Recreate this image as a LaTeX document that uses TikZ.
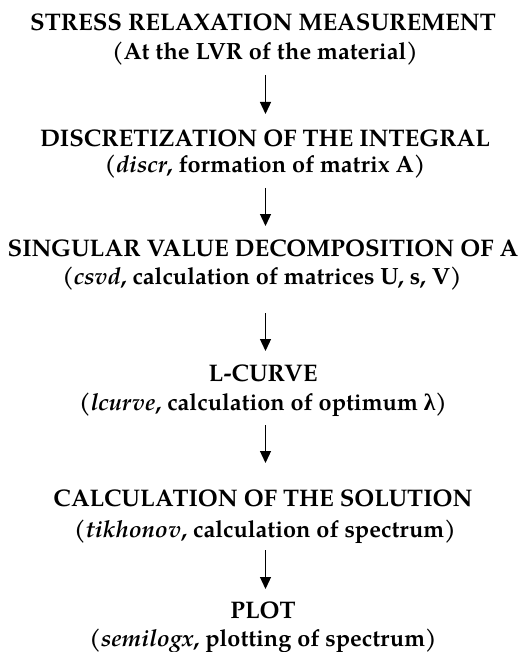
\documentclass[tikz,border=0pt]{standalone}
\usepackage{fontspec}
\setmainfont{texgyrepagella}[Extension=.otf,UprightFont=*-regular,BoldFont=*-bold,ItalicFont=*-italic,BoldItalicFont=*-bolditalic]
\newfontfamily\grk{Liberation Serif}
\usetikzlibrary{arrows.meta}
\begin{document}
\begin{tikzpicture}[x=1pt,y=1pt,
  title/.style={anchor=base,inner sep=0pt,font=\fontsize{24}{28}\selectfont\bfseries},
  sub/.style={anchor=base,inner sep=0pt,font=\fontsize{23.5}{28}\selectfont\bfseries},
  arr/.style={line width=1.3pt,-{Triangle[length=12pt,width=11pt]}}]
\useasboundingbox (0,0) rectangle (520,-652);
\fill[white] (0,0) rectangle (520,-652);
\node[title] (t1) at (263,-31) {STRESS RELAXATION MEASUREMENT};
\node[sub] (s1) at (265,-60) {(At the LVR of the material)};
\node[title] (t2) at (265,-147) {DISCRETIZATION OF THE INTEGRAL};
\node[sub] (s2) at (265,-173) {(\textit{discr}, formation of matrix A)};
\node[title] (t3) at (263,-256) {SINGULAR VALUE DECOMPOSITION OF A};
\node[sub] (s3) at (262,-284) {(\textit{csvd}, calculation of matrices U, s, V)};
\node[title] (t4) at (263,-381) {L-CURVE};
\node[sub] (s4) at (263,-410) {(\textit{lcurve}, calculation of optimum {\grk λ})};
\node[title] (t5) at (263,-506) {CALCULATION OF THE SOLUTION};
\node[sub] (s5) at (265,-537) {(\textit{tikhonov}, calculation of spectrum)};
\node[title] (t6) at (263,-618) {PLOT};
\node[sub] (s6) at (263,-646) {(\textit{semilogx}, plotting of spectrum)};
\coordinate (a1) at (265.5,-75);  \coordinate (b1) at (265.5,-114);
\coordinate (a2) at (265.5,-188); \coordinate (b2) at (265.5,-226);
\coordinate (a3) at (265.5,-313); \coordinate (b3) at (265.5,-351);
\coordinate (a4) at (265.5,-425); \coordinate (b4) at (265.5,-463);
\coordinate (a5) at (265.5,-550); \coordinate (b5) at (265.5,-589);
\draw[arr] (a1) -- (b1);
\draw[arr] (a2) -- (b2);
\draw[arr] (a3) -- (b3);
\draw[arr] (a4) -- (b4);
\draw[arr] (a5) -- (b5);
\end{tikzpicture}
\end{document}
